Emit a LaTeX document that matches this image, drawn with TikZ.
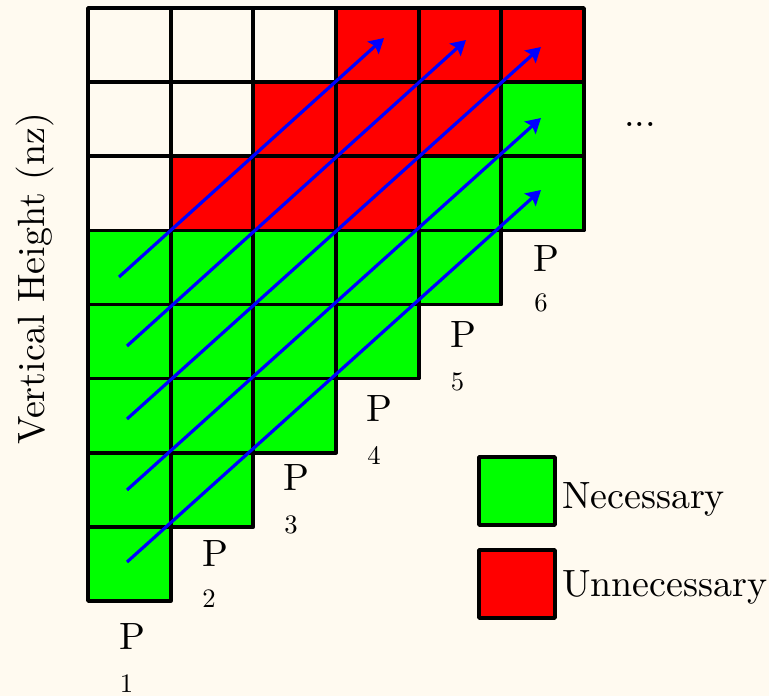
\documentclass[tikz,border=0pt]{standalone}
\usepackage{fontspec}
\setmainfont{lmroman10-regular.otf}
\usetikzlibrary{arrows.meta}
\definecolor{bgcream}{RGB}{255,250,240}
\definecolor{cellgreen}{RGB}{0,255,0}
\definecolor{cellred}{RGB}{255,0,0}
\definecolor{arrowblue}{RGB}{0,0,255}
\begin{document}
\begin{tikzpicture}[x=0.75pt,y=-0.75pt,
  cell/.style={draw=black, line width=2.8pt, minimum width=62pt, minimum height=55.6pt, inner sep=0pt, outer sep=0pt, line join=round},
  legbox/.style={draw=black, line width=2.8pt, minimum width=57pt, minimum height=51pt, inner sep=0pt, outer sep=0pt, line join=round},
  flow/.style={draw=arrowblue, line width=2.4pt, -{Stealth[length=11pt,width=12.5pt,inset=2pt]}},
  bigtext/.style={font=\fontsize{28.5}{34}\selectfont, inner sep=0pt, outer sep=0pt},
  idx/.style={font=\fontsize{20}{24}\selectfont, inner sep=0pt, outer sep=0pt},
]
\fill[bgcream] (0,0) rectangle (769,696);
\useasboundingbox (0,0) rectangle (769,696);
% grid of cells
\foreach \i in {0,...,5}{
  \pgfmathtruncatemacro{\last}{7-\i}
  \foreach \j in {0,...,\last}{
    \pgfmathtruncatemacro{\s}{\i+\j}
    \ifnum\s<3 \def\cc{bgcream}\else
      \ifnum\j<3 \ifnum\s<6 \def\cc{cellred}\else\def\cc{cellgreen}\fi
      \else \def\cc{cellgreen}\fi
    \fi
    \node[cell, fill=\cc] (c-\i-\j) at ({88+82.67*(\i+0.5)},{8+74.125*(\j+0.5)}) {};
  }
}
% arrows
\coordinate (s1) at (119,277); \coordinate (e1) at (384,38);
\coordinate (s2) at (127,346); \coordinate (e2) at (466,40);
\coordinate (s3) at (127,419); \coordinate (e3) at (541,47);
\coordinate (s4) at (127,490); \coordinate (e4) at (541,118);
\coordinate (s5) at (127,562); \coordinate (e5) at (541,190);
\foreach \k in {1,...,5}{ \draw[flow] (s\k) -- (e\k); }
% P labels
\node[bigtext] (p1) at (132,637) {P};
\node[bigtext] (p2) at (215,553.5) {P};
\node[bigtext] (p3) at (296.5,478) {P};
\node[bigtext] (p4) at (379.5,409) {P};
\node[bigtext] (p5) at (463,335) {P};
\node[bigtext] (p6) at (546.5,259) {P};
\node[idx] (n1) at (126.5,684) {1};
\node[idx] (n2) at (209,598.5) {2};
\node[idx] (n3) at (291,524.5) {3};
\node[idx] (n4) at (374,455.5) {4};
\node[idx] (n5) at (457.5,382) {5};
\node[idx] (n6) at (541,303) {6};
% dots
\node[bigtext, anchor=base] (dots) at (640,126) {...};
% axis label
\node[bigtext, rotate=90, anchor=base] (ylab) at (45,278.5) {Vertical Height (nz)};
% legend
\node[legbox, fill=cellgreen] (lg) at (517,491) {};
\node[legbox, fill=cellred] (lr) at (517,584) {};
\node[bigtext, anchor=base west] (lgt) at (562,508) {Necessary};
\node[bigtext, anchor=base west] (lrt) at (562,596) {Unnecessary};
\end{tikzpicture}
\end{document}
